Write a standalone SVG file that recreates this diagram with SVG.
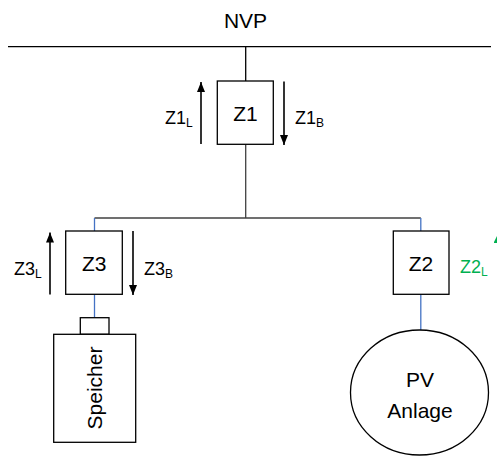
<svg xmlns="http://www.w3.org/2000/svg" width="497" height="457" viewBox="0 0 497 457">
<style>
  text { font-family: "Liberation Sans", Arial, sans-serif; fill: #000; }
  .big { font-size: 21px; }
  .lbl { font-size: 18px; }
  .sub { font-size: 12px; }
  .box { fill: #fff; stroke: #000; stroke-width: 1.3; }
  .wire { stroke: #000; stroke-width: 1.3; fill: none; }
  .bus2 { stroke: #404040; stroke-width: 1.3; fill: none; }
  .blue { stroke: #4472C4; stroke-width: 1.3; fill: none; }
  .arr { stroke: #000; stroke-width: 1.6; fill: none; marker-end: url(#ah); }
  .garr { stroke: #00B050; stroke-width: 1.6; fill: none; marker-end: url(#gah); }
  .green { fill: #00B050; }
</style>
<defs>
  <marker id="ah" markerUnits="userSpaceOnUse" viewBox="0 0 10 8" refX="10" refY="4" markerWidth="10" markerHeight="8" orient="auto">
    <path d="M0,0 L10,4 L0,8 Z" fill="#000"/>
  </marker>
  <marker id="gah" markerUnits="userSpaceOnUse" viewBox="0 0 11 11" refX="11" refY="5.5" markerWidth="11" markerHeight="11" orient="auto">
    <path d="M0,0 L11,5.5 L0,11 Z" fill="#00B050"/>
  </marker>
</defs>

<g id="connectors">
  <line class="wire" x1="8" y1="46.7" x2="491" y2="46.7"/>
  <line class="wire" x1="245.7" y1="46.7" x2="245.7" y2="81"/>
  <line class="bus2" x1="245.7" y1="144.3" x2="245.7" y2="218"/>
  <line class="bus2" x1="94.5" y1="218" x2="420.8" y2="218"/>
  <line class="blue" x1="94.5" y1="218" x2="94.5" y2="231"/>
  <line class="blue" x1="420.8" y1="218" x2="420.8" y2="231"/>
  <line class="blue" x1="94.5" y1="294.3" x2="94.5" y2="317.7"/>
  <line class="blue" x1="420.8" y1="294.3" x2="420.8" y2="330"/>
  <line class="arr" x1="201" y1="144" x2="201" y2="82"/>
  <line class="arr" x1="284" y1="81.5" x2="284" y2="145"/>
  <line class="arr" x1="50" y1="294.5" x2="50" y2="232.5"/>
  <line class="arr" x1="133" y1="231" x2="133" y2="295"/>
  <line class="garr" x1="499" y1="296" x2="499" y2="232"/>
</g>

<g id="nvp">
  <text class="big" x="245.5" y="28" text-anchor="middle">NVP</text>
</g>

<g id="z1">
  <rect class="box" x="217.3" y="81" width="56" height="63.3"/>
  <text class="big" x="245.5" y="120.5" text-anchor="middle">Z1</text>
</g>
<g id="z1l">
  <text class="lbl" x="165" y="124">Z1<tspan class="sub" dy="3">L</tspan></text>
</g>
<g id="z1b">
  <text class="lbl" x="295" y="124">Z1<tspan class="sub" dy="3">B</tspan></text>
</g>

<g id="z3">
  <rect class="box" x="65.7" y="231" width="56.6" height="63.3"/>
  <text class="big" x="94.3" y="271" text-anchor="middle">Z3</text>
</g>
<g id="z3l">
  <text class="lbl" x="14" y="275">Z3<tspan class="sub" dy="3">L</tspan></text>
</g>
<g id="z3b">
  <text class="lbl" x="144" y="275">Z3<tspan class="sub" dy="3">B</tspan></text>
</g>

<g id="z2">
  <rect class="box" x="393.3" y="231" width="55.7" height="63.3"/>
  <text class="big" x="421" y="270.5" text-anchor="middle">Z2</text>
</g>
<g id="z2l">
  <text class="lbl green" x="460" y="273">Z2<tspan class="sub green" dy="3">L</tspan></text>
</g>

<g id="speicher">
  <rect class="box" x="80.3" y="317.7" width="28.7" height="16.6"/>
  <rect class="box" x="53.7" y="334.3" width="82" height="108"/>
  <text class="big" transform="translate(102,388) rotate(-90)" text-anchor="middle">Speicher</text>
</g>

<g id="pv">
  <ellipse class="box" cx="419.5" cy="392.5" rx="69" ry="62.5"/>
  <text class="big" x="420" y="387" text-anchor="middle">PV</text>
  <text class="big" x="420" y="418" text-anchor="middle">Anlage</text>
</g>
</svg>
